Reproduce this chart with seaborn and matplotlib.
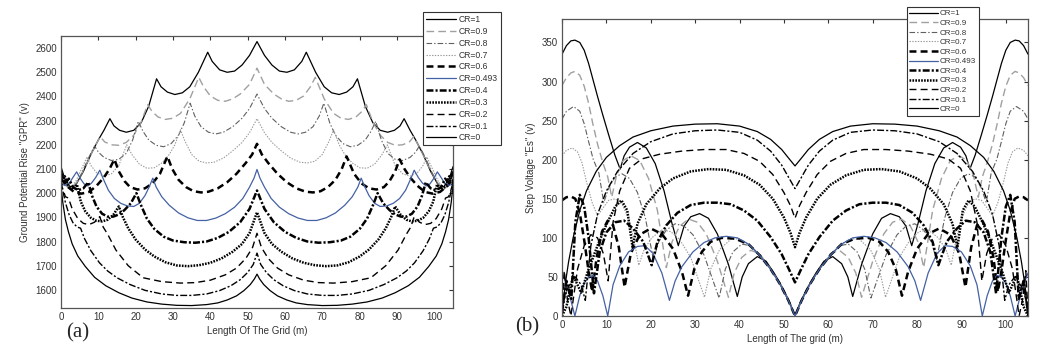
import matplotlib
matplotlib.use("Agg")
import matplotlib.pyplot as plt
import seaborn as sns

# left half of each curve (x from 0 to 52.5 m); the grid is symmetric about 52.5
CR_LABELS = ["CR=1", "CR=0.9", "CR=0.8", "CR=0.7", "CR=0.6", "CR=0.493",
             "CR=0.4", "CR=0.3", "CR=0.2", "CR=0.1", "CR=0"]
GRID_LENGTH = 105

# ---- (a) ground potential rise
gpr_10 = [(0, 2110), (1, 2060), (2.5, 2025), (4, 2035), (6, 2090), (8, 2160), (10, 2220),
          (11.5, 2260), (13.1, 2308), (14.2, 2278), (15.7, 2260), (17.5, 2252), (19.5, 2260),
          (21.5, 2292), (23.5, 2360), (25.6, 2473), (26.8, 2440), (28.5, 2418), (30.5, 2408),
          (32.5, 2415), (34.5, 2440), (36.8, 2500), (39.3, 2583), (40.5, 2545), (42.5, 2510),
          (44.5, 2500), (46.5, 2505), (48.5, 2530), (50.5, 2570), (52.5, 2627)]
gpr_09 = [(0, 2090), (1.2, 2040), (2.8, 2020), (4.5, 2050), (6.5, 2110), (8.5, 2175),
          (10.5, 2234), (11.7, 2212), (13.5, 2200), (15.5, 2198), (17.5, 2210), (19.5, 2240),
          (21.5, 2295), (23.2, 2366), (24.4, 2338), (26, 2315), (28, 2305), (30, 2310),
          (32, 2330), (34.5, 2390), (36.9, 2479), (38.2, 2440), (40, 2402), (42, 2384),
          (44, 2380), (46, 2390), (48, 2410), (50.5, 2450), (52.5, 2517)]
gpr_08 = [(0, 2080), (1.2, 2035), (2.5, 2015), (4, 2035), (5.5, 2080), (7.2, 2140), (9, 2195),
          (10, 2170), (11.5, 2148), (13.5, 2135), (15.5, 2140), (17.5, 2165), (19.2, 2220),
          (20.7, 2297), (22, 2255), (23.5, 2220), (25.5, 2198), (27.5, 2192), (29.5, 2205),
          (31.5, 2240), (33, 2290), (34.6, 2372), (35.8, 2320), (37.5, 2275), (39.5, 2252),
          (41.5, 2245), (43.5, 2252), (46, 2275), (48.5, 2310), (50.5, 2350), (52.5, 2410)]
gpr_07 = [(0, 2070), (1.2, 2030), (2.5, 2020), (4, 2050), (5.5, 2100), (7, 2150), (8, 2115),
          (9.5, 2085), (11.5, 2070), (13.5, 2080), (15.5, 2115), (17.6, 2200), (19, 2160),
          (21, 2120), (23, 2103), (25, 2105), (27, 2125), (29, 2160), (30.5, 2200),
          (32, 2262), (33.2, 2215), (35, 2160), (37, 2132), (39, 2125), (41, 2128),
          (43.5, 2145), (46, 2175), (48.5, 2210), (50.5, 2250), (52.5, 2308)]
gpr_06 = [(0, 2060), (1.5, 2030), (3.5, 2005), (5.5, 1998), (7.5, 2005), (9.5, 2030),
          (11.5, 2065), (13, 2100), (14.3, 2140), (15.5, 2090), (17, 2050), (18.5, 2025),
          (20.5, 2015), (22.5, 2020), (24.5, 2040), (26.5, 2080), (28.5, 2152), (29.8, 2100),
          (31.5, 2055), (33.5, 2025), (35.5, 2008), (37.5, 2003), (39.5, 2006), (42, 2020),
          (44.5, 2045), (47, 2080), (49.5, 2125), (51.2, 2160), (52.5, 2204)]
gpr_0493 = [(0, 2040), (1, 2032), (2.2, 2040), (3.2, 2065), (4.2, 2088), (5.2, 2060),
            (6.2, 2038), (7.2, 2030), (8.2, 2042), (9.3, 2065), (10.4, 2095), (11.3, 2060),
            (12.7, 2012), (14.3, 1978), (16, 1958), (17.8, 1947), (19.5, 1945), (21, 1958),
            (22.5, 1990), (23.6, 2025), (24.6, 2062), (25.5, 2025), (27, 1985), (29, 1950),
            (31.5, 1918), (34, 1898), (36.5, 1887), (39, 1887), (41.5, 1897), (44, 1915),
            (46.5, 1942), (48.7, 1978), (50.5, 2025), (51.7, 2062), (52.5, 2098)]
gpr_04 = [(0, 2090), (1, 2040), (2.1, 2060), (3.2, 2025), (4.6, 2012), (6, 2020), (7.3, 2045),
          (8.3, 1990), (9.5, 1945), (11, 1915), (12.5, 1903), (14, 1903), (15.5, 1912),
          (17, 1930), (18.7, 1958), (20.2, 2000), (21.3, 1955), (23, 1895), (25, 1852),
          (27.5, 1820), (30, 1804), (33, 1797), (36, 1795), (39, 1800), (42, 1815),
          (45, 1840), (48, 1880), (50.5, 1935), (52.5, 2011)]
gpr_03 = [(0, 2050), (1, 2070), (2, 2030), (3.2, 2015), (4.3, 2035), (5.3, 1965), (6.5, 1925),
          (8, 1898), (9.5, 1886), (11, 1883), (12.5, 1890), (14, 1910), (15.5, 1945),
          (16.6, 1900), (18, 1855), (20, 1808), (22.5, 1767), (25, 1738), (28, 1714),
          (31, 1701), (34, 1698), (37, 1702), (40, 1712), (43, 1730), (46, 1758),
          (48.5, 1790), (50.5, 1835), (52.5, 1921)]
gpr_02 = [(0, 2045), (0.4, 2020), (1.2, 1985), (2, 1980), (3, 1935), (4.5, 1895), (6, 1875),
          (7.5, 1870), (9, 1880), (10.4, 1903), (11.3, 1860), (12.5, 1830), (14.7, 1765),
          (18, 1700), (22, 1650), (27, 1634), (32, 1628), (36, 1630), (40, 1640), (44, 1662),
          (47, 1690), (49.5, 1730), (51.3, 1775), (52.5, 1834)]
gpr_01 = [(0, 2060), (0.5, 2010), (1.2, 1960), (2.2, 1910), (3.2, 1878), (4.3, 1860),
          (5.25, 1855), (6.3, 1812), (8, 1762), (10.3, 1712), (12.5, 1678), (15, 1650),
          (18.5, 1622), (22.5, 1598), (27, 1583), (31, 1577), (35, 1577), (39, 1583),
          (42.5, 1597), (45.5, 1617), (48, 1642), (50, 1672), (51.5, 1705), (52.5, 1752)]
gpr_00 = [(0, 2030), (0.5, 1960), (1.2, 1890), (2, 1840), (3, 1790), (4.5, 1740), (6.5, 1697),
          (9, 1652), (12, 1617), (15.5, 1588), (19, 1566), (23, 1550), (27, 1541), (31, 1536),
          (35, 1535), (39, 1539), (42, 1546), (44.5, 1558), (47, 1575), (49, 1597),
          (50.7, 1622), (51.8, 1645), (52.5, 1665)]

# ---- (b) step voltage
es_10 = [(0, 335), (1, 346), (2, 352), (2.9, 353), (4, 350), (5, 340), (6, 323), (7, 302),
         (8, 281), (9.2, 257), (10.5, 232), (11.9, 206), (13.1, 188), (14, 205), (15.2, 216),
         (17, 222), (19, 215), (21, 195), (23, 160), (24.8, 118), (26.2, 90), (27.5, 115),
         (29, 127), (31, 131), (33, 125), (35, 105), (37.5, 66), (39.5, 25), (40.6, 50),
         (42, 67), (44, 76), (46, 70), (48, 53), (50, 33), (51.5, 15), (52.5, 0)]
es_09 = [(0, 295), (1, 305), (2, 311), (2.9, 313), (4, 308), (5, 294), (6, 272), (6.9, 247),
         (8, 220), (9.2, 196), (10.3, 178), (11.2, 152), (12.3, 180), (13.8, 199), (15.5, 205),
         (17.5, 199), (19.5, 176), (21.5, 135), (23.5, 62), (24.8, 95), (26.5, 115),
         (28.5, 124), (30.5, 120), (32.5, 105), (35, 70), (37.5, 24), (38.8, 55), (40.5, 75),
         (42.5, 84), (44.5, 80), (47, 60), (49, 42), (51, 20), (52.5, 0)]
es_08 = [(0, 252), (1, 262), (2.6, 268), (4, 262), (5, 246), (6, 223), (7, 201), (8.3, 183),
         (9.4, 145), (10.6, 165), (12, 178), (13.5, 182), (15.2, 176), (17, 158), (18.8, 125),
         (20.6, 72), (21.8, 95), (23.5, 110), (25.5, 118), (27.5, 115), (29.5, 104), (32, 78),
         (35.4, 23), (36.8, 60), (38.5, 82), (40.5, 92), (42.5, 90), (44.5, 78), (47, 60),
         (49, 42), (51, 20), (52.5, 0)]
es_07 = [(0, 205), (1, 212), (2.3, 215), (3.5, 210), (4.5, 196), (5.5, 172), (6.8, 145),
         (8, 128), (9.2, 138), (10.5, 148), (12, 150), (13.5, 143), (15, 125), (16.2, 98),
         (17.3, 65), (18.5, 85), (20.2, 100), (22.5, 110), (24.5, 108), (26.5, 98), (29, 75),
         (32.1, 24), (33.5, 60), (35.5, 85), (38, 98), (40, 99), (42, 92), (44.5, 78),
         (47, 60), (49, 42), (51, 20), (52.5, 0)]
es_06 = [(0, 148), (1, 152), (2, 153), (3, 150), (4, 132), (5, 97), (6, 57), (6.8, 31),
         (7.8, 75), (9, 108), (10.3, 122), (11.5, 116), (12.8, 88), (14.1, 37), (15.5, 80),
         (17.5, 104), (20, 112), (22.5, 105), (25, 86), (27, 57), (28.4, 26), (29.8, 60),
         (31.5, 82), (33.5, 95), (36, 100), (39, 99), (42, 92), (44.5, 78), (47, 60),
         (49, 42), (51, 20), (52.5, 0)]
es_0493 = [(0, 55), (1, 40), (2, 20), (2.9, 0), (4, 26), (5, 42), (6, 50), (7, 52), (8, 45),
           (9.2, 26), (10.3, 0), (11.5, 40), (13, 64), (15, 82), (17, 89), (18.7, 90),
           (20.5, 80), (22.5, 55), (24.2, 20), (25.5, 45), (27, 63), (29.5, 82), (32, 94),
           (34.5, 100), (37, 102), (39.5, 100), (42, 92), (44.5, 78), (47, 60), (49, 42),
           (51, 20), (52.5, 0)]
es_04 = [(0, 5), (1, 45), (2.1, 22), (3, 120), (4, 155), (5, 140), (6, 100), (7.2, 29),
         (8.5, 82), (10, 107), (12, 120), (14, 122), (16, 112), (18.3, 95), (20.2, 65),
         (21.5, 95), (23.5, 116), (26, 132), (29, 142), (32, 145), (35, 145), (38, 143),
         (41, 135), (44, 122), (47, 101), (49.5, 79), (51.2, 59), (52.5, 43)]
es_03 = [(0, 0), (1, 12), (2.5, 52), (4.3, 30), (6, 60), (8, 90), (10, 117), (12, 140),
         (13.4, 148), (14.7, 135), (15.9, 88), (17, 118), (19, 143), (22, 163), (25, 176),
         (29, 185), (33, 188), (37, 187), (41, 180), (44.5, 168), (47.5, 150), (50, 126),
         (51.5, 106), (52.5, 88)]
es_02 = [(0, 5), (0.5, 58), (1.2, 22), (2, 0), (3.5, 60), (5, 90), (6.5, 104), (8, 100),
         (9.3, 80), (10.4, 45), (11.5, 120), (13, 160), (15.2, 189), (18, 201), (22, 207),
         (27, 211), (32, 213), (37, 213), (41, 208), (44.5, 198), (47.5, 181), (50, 158),
         (51.5, 141), (52.5, 125)]
es_01 = [(0, 0), (0.5, 22), (1.5, 38), (3, 50), (4.3, 40), (5.25, 20), (6.5, 90), (8, 130),
         (10, 160), (12.5, 185), (16, 208), (20, 223), (25, 233), (30, 237), (35, 238),
         (40, 235), (44, 225), (47, 211), (49.5, 193), (51.2, 176), (52.5, 163)]
es_00 = [(0, 0), (0.7, 40), (1.5, 70), (2.5, 100), (4, 135), (5.5, 160), (7.7, 185),
         (10, 203), (13, 218), (16, 229), (20, 237), (25, 243), (30, 245.5), (35, 246),
         (40, 243), (44, 236), (47, 226), (49.5, 213), (51.2, 201), (52.5, 192)]

GPR_CURVES = [gpr_10, gpr_09, gpr_08, gpr_07, gpr_06, gpr_0493,
              gpr_04, gpr_03, gpr_02, gpr_01, gpr_00]
ES_CURVES = [es_10, es_09, es_08, es_07, es_06, es_0493,
             es_04, es_03, es_02, es_01, es_00]

# colour, dash pattern (None = solid), width
STYLES = [("black", None, 0.9),
          ("#a0a0a0", (5.5, 3), 1.0),
          ("#606060", (4, 1.5, 1, 1.5), 0.8),
          ("#9a9a9a", (1, 1), 0.8),
          ("black", (5, 3), 1.8),
          ("#4461a3", None, 0.9),
          ("black", (5, 1.5, 1.5, 1.5), 1.8),
          ("black", (1.2, 0.9), 1.8),
          ("black", (5, 3), 1.0),
          ("black", (5, 1.5, 1.5, 1.5), 1.0),
          ("black", None, 0.9)]


def mirror(pts):
    """Extend a left-half profile over the full (symmetric) grid."""
    xs = [p[0] for p in pts]
    ys = [p[1] for p in pts]
    xs = xs + [GRID_LENGTH - x for x in reversed(xs[:-1])]
    ys = ys + list(reversed(ys[:-1]))
    return xs, ys


def draw_panel(ax, curves):
    for label, pts, (color, dashes, lw) in zip(CR_LABELS, curves, STYLES):
        xs, ys = mirror(pts)
        sns.lineplot(x=xs, y=ys, ax=ax, color=color, linewidth=lw, label=label,
                     sort=False, estimator=None)
        line = ax.lines[-1]
        if dashes is not None:
            line.set_dashes(dashes)
    ax.set_xlim(0, GRID_LENGTH)
    ax.set_xticks(range(0, 101, 10))
    ax.tick_params(direction="in", top=True, right=True, length=3, width=0.8,
                   labelsize=7, colors="#333333", pad=3)
    for sp in ax.spines.values():
        sp.set_color("#555555")
        sp.set_linewidth(0.9)


sns.set_style("white")
plt.rcParams["font.family"] = ["Liberation Sans", "DejaVu Sans"]
plt.rcParams["lines.scale_dashes"] = False

fig = plt.figure(figsize=(10.46, 3.58), dpi=100)
ax_a = fig.add_axes([0.0583, 0.1397, 0.3748, 0.7597])
ax_b = fig.add_axes([0.5373, 0.1173, 0.4455, 0.8296])

draw_panel(ax_a, GPR_CURVES)
ax_a.set_ylim(1525, 2650)
ax_a.set_yticks(range(1600, 2601, 100))
ax_a.set_xlabel("Length Of The Grid (m)", fontsize=7, color="#333333", labelpad=3)
ax_a.set_ylabel('Ground Potential Rise "GPR" (v)', fontsize=7, color="#333333", labelpad=4)

draw_panel(ax_b, ES_CURVES)
ax_b.set_ylim(0, 380)
ax_b.set_yticks(range(0, 351, 50))
ax_b.set_xlabel("Length of The grid (m)", fontsize=7, color="#333333", labelpad=3)
ax_b.set_ylabel('Step Voltage "Es" (v)', fontsize=7, color="#333333", labelpad=4)

for ax, anchor, fs, spacing, hl in [(ax_a, (0.4044, 0.9665), 6.2, 0.33, 3.5),
                                    (ax_b, (0.8668, 0.9804), 5.8, 0.24, 3.5)]:
    leg = ax.legend(loc="upper left", bbox_to_anchor=anchor, bbox_transform=fig.transFigure,
                    fontsize=fs, labelspacing=spacing, handlelength=hl, handletextpad=0.3,
                    borderpad=0.35, borderaxespad=0, fancybox=False, framealpha=1)
    leg.get_frame().set_edgecolor("#333333")
    leg.get_frame().set_linewidth(0.8)
    for t in leg.get_texts():
        t.set_color("#333333")

fig.text(0.063, 0.07, "(a)", fontsize=15, family="Liberation Serif", va="center")
fig.text(0.492, 0.087, "(b)", fontsize=15, family="Liberation Serif", va="center")

fig.savefig("out.png", dpi=100)
